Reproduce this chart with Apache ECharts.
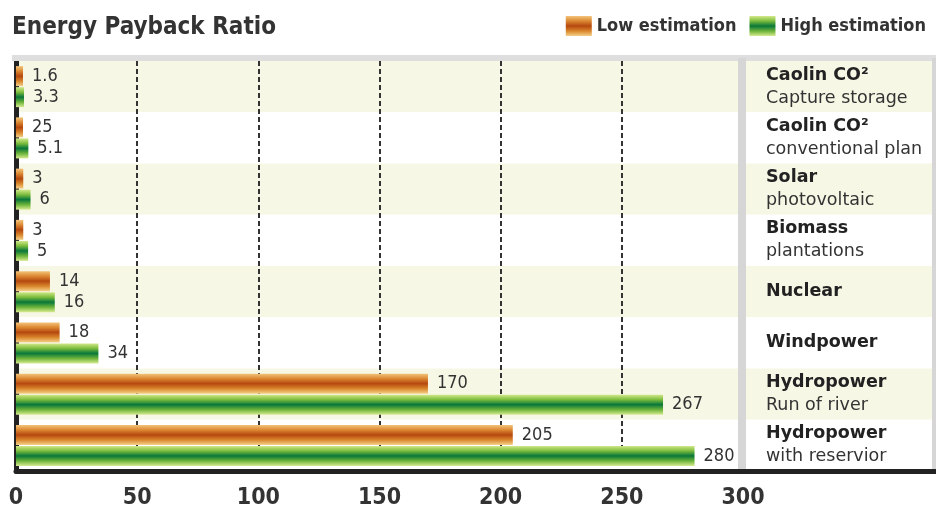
<!DOCTYPE html>
<html>
<head>
<meta charset="utf-8">
<script src="https://cdn.jsdelivr.net/npm/echarts@6/dist/echarts.min.js"></script>
<style>
html,body{margin:0;padding:0;background:#fff;}
#chart{width:936px;height:513px;}
</style>
</head>
<body>
<div id="chart"></div>
<script>
// ---- data ----
var categoryNames = ['Caolin CO²', 'Caolin CO²', 'Solar', 'Biomass', 'Nuclear', 'Windpower', 'Hydropower', 'Hydropower'];
var categorySubs = ['Capture storage', 'conventional plan', 'photovoltaic', 'plantations', '', '', 'Run of river', 'with reservior'];
var lowValues = [1.6, 2.5, 3, 3, 14, 18, 170, 205];
var lowLabels = ['1.6', '25', '3', '3', '14', '18', '170', '205'];
var highValues = [3.3, 5.1, 6, 5, 16, 34, 267, 280];
var highLabels = ['3.3', '5.1', '6', '5', '16', '34', '267', '280'];
var xTicks = [0, 50, 100, 150, 200, 250, 300];
var seriesNames = ['Low estimation', 'High estimation'];

var FONT = "'DejaVu Sans Condensed', 'DejaVu Sans', sans-serif";
var cats = categoryNames.map(function (n, i) { return 'c' + i; });

var orangeGrad = new echarts.graphic.LinearGradient(0, 0, 0, 1, [
  {offset: 0, color: '#f3c57c'},
  {offset: 0.25, color: '#dc8832'},
  {offset: 0.5, color: '#b5480f'},
  {offset: 0.75, color: '#d9862c'},
  {offset: 1, color: '#f4d088'}
]);
var greenGrad = new echarts.graphic.LinearGradient(0, 0, 0, 1, [
  {offset: 0, color: '#d3e98c'},
  {offset: 0.25, color: '#7dbd3c'},
  {offset: 0.5, color: '#08773a'},
  {offset: 0.75, color: '#6cb339'},
  {offset: 1, color: '#d6ea90'}
]);

var chart = echarts.init(document.getElementById('chart'));
var option = {
  backgroundColor: '#ffffff',
  animation: false,
  title: {
    text: 'Energy Payback Ratio',
    left: 7, top: 11,
    textStyle: {fontFamily: FONT, fontSize: 24, fontWeight: 'bold', color: '#333'}
  },
  legend: {
    right: 5, top: 11,
    itemWidth: 26, itemHeight: 20, itemGap: 13,
    icon: 'rect',
    data: seriesNames,
    textStyle: {fontFamily: FONT, fontSize: 18, fontWeight: 'bold', color: '#333'}
  },
  grid: [
    {left: 16, right: 193, top: 61, bottom: 42},
    {left: 743, right: 0, top: 61, bottom: 42}
  ],
  xAxis: [
    {
      gridIndex: 0, type: 'value', min: 0, max: 300, interval: 50,
      axisLine: {show: true, lineStyle: {color: '#222', width: 5}},
      axisTick: {show: false},
      axisLabel: {
        fontFamily: FONT, fontSize: 23, fontWeight: 'bold', color: '#333', margin: 16,
        formatter: function (v) { return xTicks.indexOf(v) >= 0 ? String(v) : ''; }
      },
      splitLine: {show: true, lineStyle: {color: '#333', width: 2, type: [5, 3]}}
    },
    {
      gridIndex: 1, type: 'value', min: 0, max: 1,
      axisLine: {show: true, lineStyle: {color: '#222', width: 5}},
      axisTick: {show: false}, axisLabel: {show: false}, splitLine: {show: false}
    }
  ],
  yAxis: [
    {
      gridIndex: 0, type: 'category', data: cats, inverse: true, offset: 5,
      axisLine: {show: true, lineStyle: {color: '#222', width: 5}},
      axisTick: {show: false}, axisLabel: {show: false},
      splitArea: {show: true, areaStyle: {color: ['#f7f7e5', '#ffffff']}}
    },
    {
      gridIndex: 1, type: 'category', data: cats, inverse: true,
      axisLine: {show: false}, axisTick: {show: false},
      splitArea: {show: true, areaStyle: {color: ['#f7f7e5', '#ffffff']}},
      axisLabel: {
        inside: true, margin: 23, align: 'left',
        formatter: function (v, i) {
          var s = '{b|' + categoryNames[i] + '}';
          if (categorySubs[i]) s += '\n{n|' + categorySubs[i] + '}';
          return s;
        },
        rich: {
          b: {fontFamily: "'DejaVu Sans', sans-serif", fontSize: 17.5, fontWeight: 'bold', color: '#222', lineHeight: 23},
          n: {fontFamily: "'DejaVu Sans', sans-serif", fontSize: 17.5, color: '#333', lineHeight: 23}
        }
      }
    }
  ],
  series: [
    {
      name: seriesNames[0], type: 'bar', xAxisIndex: 0, yAxisIndex: 0,
      data: lowValues, barWidth: 20, barGap: '5%', barMinHeight: 7,
      itemStyle: {color: orangeGrad},
      label: {
        show: true, position: 'right', distance: 9,
        fontFamily: FONT, fontSize: 18, color: '#333',
        formatter: function (p) { return lowLabels[p.dataIndex]; }
      },
      z: 3
    },
    {
      name: seriesNames[1], type: 'bar', xAxisIndex: 0, yAxisIndex: 0,
      data: highValues, barWidth: 20, barGap: '5%', barMinHeight: 7,
      itemStyle: {color: greenGrad},
      label: {
        show: true, position: 'right', distance: 9,
        fontFamily: FONT, fontSize: 18, color: '#333',
        formatter: function (p) { return highLabels[p.dataIndex]; }
      },
      z: 3
    }
  ],
  graphic: [
    {type: 'rect', left: 12, top: 55, shape: {width: 924, height: 6}, style: {fill: '#dedede'}, z: 10},
    {type: 'rect', left: 738, top: 58, shape: {width: 8, height: 411}, style: {fill: '#d6d6d6'}, z: 10},
    {type: 'rect', left: 932, top: 58, shape: {width: 4, height: 411}, style: {fill: '#d6d6d6'}, z: 10}
  ]
};
chart.setOption(option);
</script>
</body>
</html>
